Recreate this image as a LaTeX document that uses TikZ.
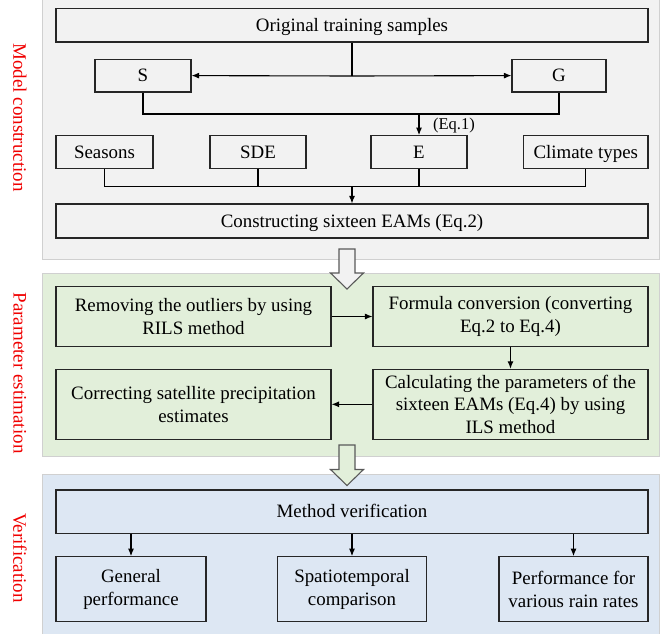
\documentclass[tikz,border=0pt]{standalone}
\usepackage{fontspec}
\setmainfont{Liberation Serif}
\usetikzlibrary{arrows.meta}
\definecolor{pone}{HTML}{F2F2F2}
\definecolor{ptwo}{HTML}{E2EFDA}
\definecolor{pthree}{HTML}{DDE7F3}
\definecolor{panelb}{HTML}{D0D0D0}
\definecolor{boxc}{HTML}{262626}
\definecolor{hollowb}{HTML}{595959}
\definecolor{labred}{HTML}{F00000}
\begin{document}
\begin{tikzpicture}[x=1pt,y=-1pt,
  box/.style={draw=boxc, line width=1.1pt, inner sep=0pt, align=center,
    font=\fontsize{18.9}{22.7}\selectfont, text=black},
  oneline/.style={text height=12.5pt, text depth=0pt},
  conn/.style={line width=1.1pt, draw=black},
  arr/.style={conn, -{Latex[length=7.5pt,width=6pt]}},
  panel/.style={draw=panelb, line width=0.8pt},
  sidelabel/.style={rotate=-90, text=labred, font=\fontsize{19}{22}\selectfont},
  hollow/.style={draw=hollowb, line width=1.1pt}]
\useasboundingbox (0,0) rectangle (669,633);
% panels
\path[panel, fill=pone] (42,-5) rectangle (659,259);
\path[panel, fill=ptwo] (42,273) rectangle (659,456);
\path[panel, fill=pthree] (42,474) rectangle (659,640);
% side labels
\node[sidelabel] (lab1) at (19.8,117.5) {Model construction};
\node[sidelabel] (lab2) at (19.8,373) {Parameter estimation};
\node[sidelabel] (lab3) at (19.8,558) {Verification};
% panel 1
\node[box, oneline, minimum width=592, minimum height=33.5] (orig) at (352,25.25) {Original training samples};
\node[box, oneline, minimum width=96, minimum height=32.7] (S) at (143,75.6) {S};
\node[box, oneline, minimum width=94, minimum height=32.7] (G) at (559,75.6) {G};
\node[box, oneline, minimum width=97, minimum height=32.6] (seasons) at (104.5,152) {Seasons};
\node[box, oneline, minimum width=96, minimum height=32.6] (sde) at (258,152) {SDE};
\node[box, oneline, minimum width=96, minimum height=32.6] (E) at (419,152) {E};
\node[box, oneline, minimum width=124.5, minimum height=32.6] (climate) at (585.75,152) {Climate types};
\node[box, oneline, minimum width=592, minimum height=34] (cons) at (352,221) {Constructing sixteen EAMs (Eq.2)};
\node[font=\fontsize{16.5}{19}\selectfont, inner sep=0pt] (eq1) at (454,126) {(Eq.1)};
\coordinate (j1) at (352,76);
\coordinate (j2) at (419,114);
\coordinate (j3) at (352,186.7);
\draw[conn] (orig.south) -- (j1);
\draw[arr] (j1) -- (S.east);
\draw[arr] (j1) -- (G.west);
\draw[conn] (S.south) |- (j2) -| (G.south);
\draw[arr] (j2) -- (E.north);
\draw[conn] (seasons.south) |- (j3) -| (climate.south);
\draw[conn] (sde.south) -- (sde.south |- j3);
\draw[conn] (E.south) -- (E.south |- j3);
\draw[arr] (j3) -- (cons.north);
% panel 2
\node[box, minimum width=275, minimum height=59.3] (remove) at (193.5,316.5) {Removing the outliers by using\\RILS method};
\node[box, minimum width=275, minimum height=59.3] (formula) at (510.5,316.5) {Formula conversion (converting\\Eq.2 to Eq.4)};
\node[box, minimum width=275, minimum height=70] (correct) at (193.5,404.3) {Correcting satellite precipitation\\estimates};
\node[box, minimum width=275, minimum height=70] (calc) at (510.5,404.3) {Calculating the parameters of the\\sixteen EAMs (Eq.4) by using\\ILS method};
\draw[arr] (remove.east) -- (formula.west);
\draw[arr] (formula.south) -- (calc.north);
\draw[arr] (calc.west) -- (correct.east);
% panel 3
\node[box, oneline, minimum width=592, minimum height=43.3] (method) at (352,511.65) {Method verification};
\node[box, minimum width=150, minimum height=65] (general) at (131,589.2) {General\\performance};
\node[box, minimum width=149, minimum height=65] (spatio) at (352,589.2) {Spatiotemporal\\comparison};
\node[box, minimum width=149, minimum height=65] (perf) at (573.5,589.2) {Performance for\\various rain rates};
\draw[arr] (general.north |- method.south) -- (general.north);
\draw[arr] (spatio.north |- method.south) -- (spatio.north);
\draw[arr] (perf.north |- method.south) -- (perf.north);
% hollow arrows
\path[hollow, fill=pone] (339,249) -- (355,249) -- (355,273) -- (363.5,273) -- (347,289) -- (330.5,273) -- (339,273) -- cycle;
\path[hollow, fill=ptwo] (339,445) -- (355,445) -- (355,469.5) -- (363.5,469.5) -- (347,485.5) -- (330.5,469.5) -- (339,469.5) -- cycle;
\end{tikzpicture}
\end{document}
